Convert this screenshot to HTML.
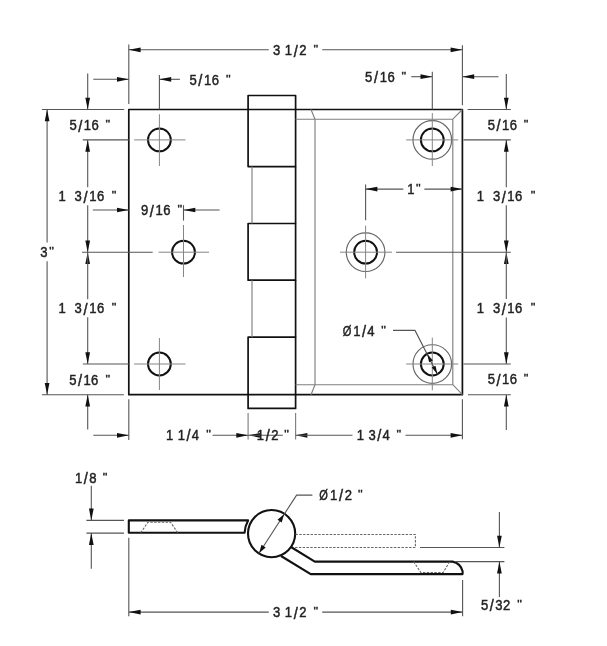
<!DOCTYPE html>
<html><head><meta charset="utf-8">
<style>
html,body{margin:0;padding:0;background:#fff;}
body{width:607px;height:646px;overflow:hidden;font-family:"Liberation Sans",sans-serif;}
svg{display:block;will-change:transform}
.k{stroke:#111;stroke-width:1.7;fill:none;stroke-linejoin:round}
.t{stroke:#808080;stroke-width:1.15;fill:none}
.o{stroke:#666;stroke-width:1.15;fill:none}
.h{stroke:#111;stroke-width:2;fill:none}
.k2{stroke:#111;stroke-width:2.1;fill:none;stroke-linejoin:round}
.d{stroke:#555;stroke-width:1.1;fill:none}
.c{stroke:#858585;stroke-width:1;fill:none}
.dot{stroke:#666;stroke-width:1.1;fill:none;stroke-dasharray:2.4 1.4}
.a{fill:#111;stroke:none}
text{font-family:"Liberation Sans",sans-serif;font-size:14.2px;fill:#222;stroke:#222;stroke-width:0.45px}
</style></head><body>
<svg width="607" height="646" viewBox="0 0 607 646">
<rect width="607" height="646" fill="#fff"/>
<!-- GEOMETRY -->
<rect class="k" x="128.8" y="109.5" width="333.60" height="285.20"/>
<rect class="k" x="248.1" y="95.5" width="47.50" height="71.10"/>
<rect class="k" x="248.1" y="223.5" width="47.50" height="56.70"/>
<rect class="k" x="248.1" y="337.2" width="47.50" height="71.20"/>
<path class="k" d="M295.6 166.6V223.5M295.6 280.2V337.2"/>
<path class="t" d="M252 166.6V223.5M252 280.2V337.2"/>
<path class="t" d="M295.6 119.2H452.8V384.7H295.6M315 119.2V384.7M452.8 119.2L462.4 109.5M452.8 384.7L462.4 394.7M315 119.2L311 109.5M315 384.7L311 394.7"/>
<circle class="h" cx="159.4" cy="139.9" r="11.4"/>
<circle class="h" cx="183.5" cy="252.2" r="11.4"/>
<circle class="h" cx="159.4" cy="364.0" r="11.4"/>
<circle class="h" cx="432.3" cy="139.9" r="11.4"/>
<circle class="o" cx="432.3" cy="139.9" r="19.3"/>
<circle class="h" cx="365.6" cy="252.2" r="11.4"/>
<circle class="o" cx="365.6" cy="252.2" r="19.3"/>
<circle class="h" cx="432.3" cy="364.0" r="11.4"/>
<circle class="o" cx="432.3" cy="364.0" r="19.3"/>
<!-- CENTER MARKS -->
<path class="c" d="M159.40 114.20L159.40 166.00"/>
<path class="c" d="M134.10 139.90L185.50 139.90"/>
<path class="c" d="M159.40 338.00L159.40 390.00"/>
<path class="c" d="M134.10 364.00L185.50 364.00"/>
<path class="c" d="M183.50 225.00L183.50 277.00"/>
<path class="c" d="M158.50 252.20L209.00 252.20"/>
<path class="c" d="M432.30 113.00L432.30 166.00"/>
<path class="c" d="M406.20 139.90L458.20 139.90"/>
<path class="c" d="M432.30 337.60L432.30 390.30"/>
<path class="c" d="M406.20 364.00L458.20 364.00"/>
<path class="c" d="M365.60 225.60L365.60 278.40"/>
<path class="c" d="M340.00 252.20L392.00 252.20"/>
<!-- TOP 3 1/2 -->
<path class="d" d="M128.80 44.50L128.80 104.00"/>
<path class="d" d="M462.40 45.30L462.40 105.20"/>
<path class="d" d="M128.80 49.80L268.80 49.80"/>
<path class="d" d="M322.20 49.80L462.40 49.80"/>
<polygon class="a" points="128.80,49.80 140.60,47.45 140.60,52.15"/>
<polygon class="a" points="462.40,49.80 450.60,52.15 450.60,47.45"/>
<text transform="translate(272.90 55.20) scale(0.92 1)" dx="0 0.58 0.58">3 1</text>
<text transform="translate(293.65 56.50) scale(1.02 1.19)">/</text>
<text transform="translate(299.19 55.20) scale(0.92 1)">2</text>
<text transform="translate(313.53 53.20) scale(0.92 0.8)">&quot;</text>
<!-- top-left 5/16 horiz -->
<path class="d" d="M93.30 79.30L128.80 79.30"/>
<polygon class="a" points="128.80,79.30 117.00,81.65 117.00,76.95"/>
<path class="d" d="M159.40 74.90L159.40 109.50"/>
<path class="d" d="M159.40 79.30L179.90 79.30"/>
<polygon class="a" points="159.40,79.30 171.20,76.95 171.20,81.65"/>
<text transform="translate(189.48 84.80) scale(0.92 1)">5</text>
<text transform="translate(198.34 86.10) scale(1.02 1.19)">/</text>
<text transform="translate(203.96 84.80) scale(0.92 1)" dx="0 0.52">16</text>
<text transform="translate(225.88 82.80) scale(0.92 0.8)">&quot;</text>
<!-- top-right 5/16 horiz -->
<text transform="translate(364.98 81.80) scale(0.92 1)">5</text>
<text transform="translate(373.97 83.10) scale(1.02 1.19)">/</text>
<text transform="translate(379.72 81.80) scale(0.92 1)" dx="0 0.56">16</text>
<text transform="translate(401.53 79.80) scale(0.92 0.8)">&quot;</text>
<path class="d" d="M411.30 76.70L432.30 76.70"/>
<polygon class="a" points="432.30,76.70 420.50,79.05 420.50,74.35"/>
<path class="d" d="M432.30 71.70L432.30 109.50"/>
<path class="d" d="M462.40 76.70L498.50 76.70"/>
<polygon class="a" points="462.40,76.70 474.20,74.35 474.20,79.05"/>
<!-- LEFT vertical dims -->
<path class="d" d="M41.90 109.50L124.20 109.50"/>
<path class="d" d="M41.90 394.70L123.80 394.70"/>
<path class="d" d="M87.70 73.50L87.70 109.50"/>
<polygon class="a" points="87.70,109.50 85.35,97.70 90.05,97.70"/>
<path class="d" d="M82.80 139.90L128.80 139.90"/>
<path class="d" d="M87.70 139.90L87.70 187.20"/>
<polygon class="a" points="87.70,139.90 90.05,151.70 85.35,151.70"/>
<path class="d" d="M87.70 205.20L87.70 252.20"/>
<polygon class="a" points="87.70,252.20 85.35,240.40 90.05,240.40"/>
<path class="d" d="M82.00 252.20L152.70 252.20"/>
<polygon class="a" points="87.70,252.20 90.05,264.00 85.35,264.00"/>
<path class="d" d="M87.70 252.20L87.70 299.20"/>
<path class="d" d="M87.70 317.20L87.70 364.00"/>
<polygon class="a" points="87.70,364.00 85.35,352.20 90.05,352.20"/>
<path class="d" d="M82.90 364.00L128.80 364.00"/>
<path class="d" d="M87.70 394.70L87.70 429.50"/>
<polygon class="a" points="87.70,394.70 90.05,406.50 85.35,406.50"/>
<text transform="translate(69.38 130.20) scale(0.92 1)">5</text>
<text transform="translate(78.15 131.50) scale(1.02 1.19)">/</text>
<text transform="translate(83.69 130.20) scale(0.92 1)" dx="0 0.49">16</text>
<text transform="translate(105.38 128.20) scale(0.92 0.8)">&quot;</text>
<text transform="translate(58.54 201.20) scale(0.92 1)">1</text>
<text transform="translate(74.50 201.20) scale(0.92 1)">3</text>
<text transform="translate(83.49 202.50) scale(1.02 1.19)">/</text>
<text transform="translate(89.23 201.20) scale(0.92 1)" dx="0 0.56">16</text>
<text transform="translate(111.63 199.20) scale(0.92 0.8)">&quot;</text>
<text transform="translate(58.54 313.20) scale(0.92 1)">1</text>
<text transform="translate(74.50 313.20) scale(0.92 1)">3</text>
<text transform="translate(83.49 314.50) scale(1.02 1.19)">/</text>
<text transform="translate(89.23 313.20) scale(0.92 1)" dx="0 0.56">16</text>
<text transform="translate(111.63 311.20) scale(0.92 0.8)">&quot;</text>
<text transform="translate(69.28 384.80) scale(0.92 1)">5</text>
<text transform="translate(77.97 386.10) scale(1.02 1.19)">/</text>
<text transform="translate(83.42 384.80) scale(0.92 1)" dx="0 0.46">16</text>
<text transform="translate(105.53 382.80) scale(0.92 0.8)">&quot;</text>
<path class="d" d="M47.10 109.50L47.10 242.50"/>
<path class="d" d="M47.10 261.20L47.10 394.70"/>
<polygon class="a" points="47.10,109.50 49.45,121.30 44.75,121.30"/>
<polygon class="a" points="47.10,394.70 44.75,382.90 49.45,382.90"/>
<text transform="translate(40.21 257.40) scale(0.92 1)">3</text>
<text transform="translate(49.28 255.40) scale(0.92 0.8)">&quot;</text>
<!-- 9/16 -->
<path class="d" d="M92.80 210.00L128.80 210.00"/>
<polygon class="a" points="128.80,210.00 117.00,212.35 117.00,207.65"/>
<text transform="translate(140.99 215.40) scale(0.92 1)">9</text>
<text transform="translate(149.85 216.70) scale(1.02 1.19)">/</text>
<text transform="translate(155.46 215.40) scale(0.92 1)" dx="0 0.52">16</text>
<text transform="translate(177.58 213.40) scale(0.92 0.8)">&quot;</text>
<path class="d" d="M183.50 205.20L183.50 220.60"/>
<path class="d" d="M183.50 210.00L219.60 210.00"/>
<polygon class="a" points="183.50,210.00 195.30,207.65 195.30,212.35"/>
<!-- 1" -->
<path class="d" d="M365.60 184.40L365.60 220.30"/>
<path class="d" d="M365.60 189.10L403.30 189.10"/>
<path class="d" d="M424.40 189.10L462.40 189.10"/>
<polygon class="a" points="365.60,189.10 377.40,186.75 377.40,191.45"/>
<polygon class="a" points="462.40,189.10 450.60,191.45 450.60,186.75"/>
<text transform="translate(407.29 194.10) scale(0.92 1)">1</text>
<text transform="translate(416.03 192.10) scale(0.92 0.8)">&quot;</text>
<!-- RIGHT vertical dims -->
<path class="d" d="M467.60 109.50L510.80 109.50"/>
<path class="d" d="M468.00 394.70L510.80 394.70"/>
<path class="d" d="M506.30 74.00L506.30 109.50"/>
<polygon class="a" points="506.30,109.50 503.95,97.70 508.65,97.70"/>
<path class="d" d="M463.50 139.90L510.80 139.90"/>
<path class="d" d="M506.30 139.90L506.30 187.20"/>
<polygon class="a" points="506.30,139.90 508.65,151.70 503.95,151.70"/>
<path class="d" d="M506.30 205.20L506.30 252.20"/>
<polygon class="a" points="506.30,252.20 503.95,240.40 508.65,240.40"/>
<path class="d" d="M396.00 252.20L510.80 252.20"/>
<polygon class="a" points="506.30,252.20 508.65,264.00 503.95,264.00"/>
<path class="d" d="M506.30 252.20L506.30 299.10"/>
<path class="d" d="M506.30 317.50L506.30 364.00"/>
<polygon class="a" points="506.30,364.00 503.95,352.20 508.65,352.20"/>
<path class="d" d="M463.50 364.00L510.80 364.00"/>
<path class="d" d="M506.30 394.70L506.30 430.00"/>
<polygon class="a" points="506.30,394.70 508.65,406.50 503.95,406.50"/>
<text transform="translate(487.68 129.50) scale(0.92 1)">5</text>
<text transform="translate(496.50 130.80) scale(1.02 1.19)">/</text>
<text transform="translate(502.08 129.50) scale(0.92 1)" dx="0 0.51">16</text>
<text transform="translate(523.68 127.50) scale(0.92 0.8)">&quot;</text>
<text transform="translate(476.69 201.30) scale(0.92 1)">1</text>
<text transform="translate(492.90 201.30) scale(0.92 1)">3</text>
<text transform="translate(501.76 202.60) scale(1.02 1.19)">/</text>
<text transform="translate(507.37 201.30) scale(0.92 1)" dx="0 0.52">16</text>
<text transform="translate(530.73 199.30) scale(0.92 0.8)">&quot;</text>
<text transform="translate(476.69 313.30) scale(0.92 1)">1</text>
<text transform="translate(492.90 313.30) scale(0.92 1)">3</text>
<text transform="translate(501.76 314.60) scale(1.02 1.19)">/</text>
<text transform="translate(507.37 313.30) scale(0.92 1)" dx="0 0.52">16</text>
<text transform="translate(530.73 311.30) scale(0.92 0.8)">&quot;</text>
<text transform="translate(487.68 384.40) scale(0.92 1)">5</text>
<text transform="translate(496.50 385.70) scale(1.02 1.19)">/</text>
<text transform="translate(502.08 384.40) scale(0.92 1)" dx="0 0.51">16</text>
<text transform="translate(523.68 382.40) scale(0.92 0.8)">&quot;</text>
<!-- O1/4 -->
<text transform="translate(342.82 335.50) scale(0.78 1)">Ø</text>
<text transform="translate(353.24 335.50) scale(0.92 1)">1</text>
<text transform="translate(361.90 336.80) scale(1.02 1.19)">/</text>
<text transform="translate(367.32 335.50) scale(0.92 1)">4</text>
<text transform="translate(381.28 333.50) scale(0.92 0.8)">&quot;</text>
<path class="d" d="M393 330.4H415L437.40 374.19"/>
<polygon class="a" points="427.29,353.99 432.84,360.38 429.08,362.26"/>
<polygon class="a" points="437.31,374.01 431.76,367.62 435.52,365.74"/>
<!-- BOTTOM dims -->
<path class="d" d="M128.80 399.20L128.80 440.00"/>
<path class="d" d="M462.40 399.20L462.40 439.30"/>
<path class="t" d="M248.10 412.90L248.10 439.40"/>
<path class="t" d="M295.60 412.90L295.60 439.40"/>
<path class="d" d="M93.30 435.30L128.80 435.30"/>
<polygon class="a" points="128.80,435.30 117.00,437.65 117.00,432.95"/>
<text transform="translate(165.90 440.10) scale(0.92 1)" dx="0 0.53 0.53">1 1</text>
<text transform="translate(186.41 441.40) scale(1.02 1.19)">/</text>
<text transform="translate(191.82 440.10) scale(0.92 1)">4</text>
<text transform="translate(206.18 438.10) scale(0.92 0.8)">&quot;</text>
<path class="d" d="M212.60 435.30L248.10 435.30"/>
<polygon class="a" points="248.10,435.30 236.30,437.65 236.30,432.95"/>
<polygon class="a" points="248.10,435.30 259.90,432.95 259.90,437.65"/>
<path class="d" d="M248.10 435.30L282.80 435.30"/>
<text transform="translate(256.80 440.10) scale(0.92 1)">1</text>
<text transform="translate(265.67 441.40) scale(1.02 1.19)">/</text>
<text transform="translate(271.29 440.10) scale(0.92 1)">2</text>
<text transform="translate(284.28 438.10) scale(0.92 0.8)">&quot;</text>
<polygon class="a" points="295.60,435.30 307.40,432.95 307.40,437.65"/>
<path class="d" d="M295.60 435.30L352.50 435.30"/>
<text transform="translate(356.80 440.10) scale(0.92 1)" dx="0 0.51 0.51">1 3</text>
<text transform="translate(377.25 441.40) scale(1.02 1.19)">/</text>
<text transform="translate(382.62 440.10) scale(0.92 1)">4</text>
<text transform="translate(396.48 438.10) scale(0.92 0.8)">&quot;</text>
<path class="d" d="M405.50 435.30L462.40 435.30"/>
<polygon class="a" points="462.40,435.30 450.60,437.65 450.60,432.95"/>
<!-- SIDE VIEW -->
<path class="k2" d="M128.8 520.4H248.1A27 27 0 0 0 244.6 532.8H128.8Z"/>
<path class="dot" d="M140.7 532.8L147.9 522.3H170.6L177.8 532.8"/>
<circle class="k2" cx="271.6" cy="533.6" r="23.6"/>
<path class="k2" d="M291 547L314.8 561.6H452.5Q460.5 563.2 462.6 571.3V574.1H310.7L281 556"/>
<path class="dot" d="M295.5 534.5H415.4V547.5H294"/>
<path class="dot" d="M413.6 561.6L420.8 572.5H443.1L449.8 561.6"/>
<path class="d" d="M86.40 520.40L124.00 520.40"/>
<path class="d" d="M86.40 533.10L124.00 533.10"/>
<path class="d" d="M91.30 485.70L91.30 520.40"/>
<polygon class="a" points="91.30,520.40 88.95,508.60 93.65,508.60"/>
<path class="d" d="M91.30 533.10L91.30 568.70"/>
<polygon class="a" points="91.30,533.10 93.65,544.90 88.95,544.90"/>
<text transform="translate(75.10 483.10) scale(0.92 1)">1</text>
<text transform="translate(83.77 484.40) scale(1.02 1.19)">/</text>
<text transform="translate(89.20 483.10) scale(0.92 1)">8</text>
<text transform="translate(102.73 481.10) scale(0.92 0.8)">&quot;</text>
<path class="d" d="M258.84 553.45L296.6 495.1H312.4"/>
<polygon class="a" points="284.04,514.25 281.71,522.50 277.50,519.80"/>
<polygon class="a" points="259.16,552.95 261.49,544.70 265.70,547.40"/>
<text transform="translate(319.22 500.10) scale(0.78 1)">Ø</text>
<text transform="translate(330.07 500.10) scale(0.92 1)">1</text>
<text transform="translate(339.05 501.40) scale(1.02 1.19)">/</text>
<text transform="translate(344.79 500.10) scale(0.92 1)">2</text>
<text transform="translate(358.03 498.10) scale(0.92 0.8)">&quot;</text>
<path class="d" d="M128.80 537.80L128.80 616.20"/>
<path class="d" d="M462.60 580.00L462.60 616.20"/>
<path class="d" d="M128.80 612.10L268.80 612.10"/>
<path class="d" d="M322.20 612.10L462.60 612.10"/>
<polygon class="a" points="128.80,612.10 140.60,609.75 140.60,614.45"/>
<polygon class="a" points="462.60,612.10 450.80,614.45 450.80,609.75"/>
<text transform="translate(272.90 617.20) scale(0.92 1)" dx="0 0.58 0.58">3 1</text>
<text transform="translate(293.65 618.50) scale(1.02 1.19)">/</text>
<text transform="translate(299.19 617.20) scale(0.92 1)">2</text>
<text transform="translate(313.53 615.20) scale(0.92 0.8)">&quot;</text>
<path class="d" d="M420.00 547.50L504.40 547.50"/>
<path class="d" d="M455.50 561.60L504.40 561.60"/>
<path class="d" d="M499.40 512.00L499.40 547.50"/>
<polygon class="a" points="499.40,547.50 497.05,535.70 501.75,535.70"/>
<path class="d" d="M499.40 561.60L499.40 596.90"/>
<polygon class="a" points="499.40,561.60 501.75,573.40 497.05,573.40"/>
<text transform="translate(480.98 609.50) scale(0.92 1)">5</text>
<text transform="translate(489.70 610.80) scale(1.02 1.19)">/</text>
<text transform="translate(495.19 609.50) scale(0.92 1)" dx="0 0.48">32</text>
<text transform="translate(517.23 607.50) scale(0.92 0.8)">&quot;</text>
</svg>
</body></html>
